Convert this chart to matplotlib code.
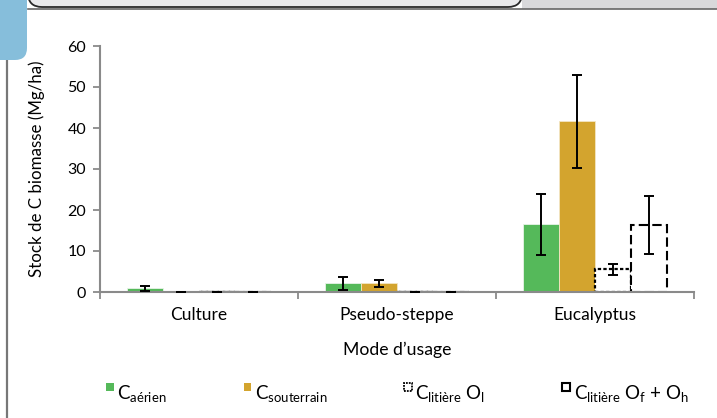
import matplotlib
matplotlib.use("Agg")
import matplotlib.pyplot as plt
import matplotlib.transforms as mtransforms
from matplotlib.patches import Patch, Rectangle, FancyBboxPatch
from matplotlib.lines import Line2D
from matplotlib.legend_handler import HandlerPatch
import numpy as np

plt.rcParams["font.family"] = ["Lato", "DejaVu Sans"]
plt.rcParams["mathtext.fontset"] = "custom"
plt.rcParams["mathtext.rm"] = "Lato"
plt.rcParams["mathtext.it"] = "Lato"
plt.rcParams["mathtext.bf"] = "Lato:bold"
plt.rcParams["mathtext.default"] = "rm"

# land-use categories and carbon stocks (Mg/ha) with standard deviations
usages = ["Culture", "Pseudo-steppe", "Eucalyptus"]
c_aerien = [0.9, 2.1, 16.5]
c_aerien_err = [0.6, 1.6, 7.5]
c_souterrain = [0.0, 2.1, 41.6]
c_souterrain_err = [0.0, 0.9, 11.4]
c_litiere_ol = [0.0, 0.0, 5.5]
c_litiere_ol_err = [0.0, 0.0, 1.3]
c_litiere_ofoh = [0.0, 0.0, 16.3]
c_litiere_ofoh_err = [0.0, 0.0, 7.1]

series_labels = [
    r"C$_{aérien}$",
    r"C$_{souterrain}$",
    r"C$_{litière}$ O$_{l}$",
    r"C$_{litière}$ O$_{f}$ + O$_{h}$",
]

GREEN = "#55b95a"
GOLD = "#d3a42e"
AXIS_GREY = "#8a8a8a"

W, H = 717, 418
fig = plt.figure(figsize=(W / 100, H / 100), dpi=100)

# page furniture around the chart
pix = mtransforms.IdentityTransform()
fig.patches.append(Rectangle((522, 409), 200, 12, transform=pix,
                             facecolor="#d9d9db", edgecolor="none", zorder=0))
fig.patches.append(FancyBboxPatch((28, 411), 494, 30, transform=pix,
                                  boxstyle="round,pad=0,rounding_size=14",
                                  facecolor="#e9e9eb", edgecolor="#2a2a2a",
                                  linewidth=1.3, zorder=1))
fig.lines.append(Line2D([28, W], [409, 409], transform=pix,
                        color="#666666", linewidth=1.2, zorder=1))
fig.lines.append(Line2D([6.5, 6.5], [0, 358], transform=pix,
                        color="#777777", linewidth=1.6, zorder=1))
fig.patches.append(FancyBboxPatch((-20, 358), 47, 80, transform=pix,
                                  boxstyle="round,pad=0,rounding_size=12",
                                  facecolor="#86bedb", edgecolor="none", zorder=2))

ax = fig.add_axes([100 / W, 126 / H, 594 / W, 246 / H])

x = np.arange(len(usages))
width = 0.182
offsets = np.array([-1.5, -0.5, 0.5, 1.5]) * width

values = [c_aerien, c_souterrain, c_litiere_ol, c_litiere_ofoh]
errors = [c_aerien_err, c_souterrain_err, c_litiere_ol_err, c_litiere_ofoh_err]
styles = [
    dict(color=GREEN, edgecolor="#e8f4e8", linewidth=0.6),
    dict(color=GOLD, edgecolor="#f3e6c4", linewidth=0.6),
    dict(facecolor="white", edgecolor="black", linewidth=1.6, linestyle=(0, (1.5, 1))),
    dict(facecolor="white", edgecolor="black", linewidth=1.5, linestyle=(0, (4.5, 2))),
]

for off, vals, errs, st in zip(offsets, values, errors, styles):
    ax.bar(x + off, vals, width, zorder=1, **st)
    ax.errorbar(x + off, vals, yerr=errs, fmt="none", ecolor="black",
                elinewidth=1.4, capsize=3.3, capthick=1.4, zorder=3)

ax.set_xlim(-0.5, 2.5)
ax.set_ylim(0, 60)
ax.set_yticks(np.arange(0, 61, 10))

ax.set_xticks([-0.5, 0.5, 1.5, 2.5])
ax.set_xticklabels([])
ax.set_xticks(x, minor=True)
ax.set_xticklabels(usages, minor=True)
ax.tick_params(axis="x", which="major", direction="out", length=5,
               width=1.3, color=AXIS_GREY)
ax.tick_params(axis="x", which="minor", length=0, pad=11, labelsize=12.5)
ax.tick_params(axis="y", direction="out", length=5, width=1.3,
               color=AXIS_GREY, pad=5, labelsize=11.5)

for side in ["top", "right"]:
    ax.spines[side].set_visible(False)
for side in ["left", "bottom"]:
    ax.spines[side].set_color(AXIS_GREY)
    ax.spines[side].set_linewidth(1.5)

ax.set_ylabel("Stock de C biomasse (Mg/ha)", fontsize=12.2)
ax.yaxis.set_label_coords(-0.093, 0.5)
ax.set_xlabel("Mode d\u2019usage", fontsize=12.7)
ax.xaxis.set_label_coords(0.5, -0.2)


def small_square(legend, orig_handle, xdescent, ydescent, width, height, fontsize):
    # little square sitting level with the top of the capital letters
    side = 0.4 * fontsize
    return Rectangle((-xdescent, 0.42 * fontsize), side, side)


handles = [
    Patch(facecolor=GREEN, edgecolor="none"),
    Patch(facecolor=GOLD, edgecolor="none"),
    Patch(facecolor="white", edgecolor="black", linewidth=1.3, linestyle=(0, (1, 0.6))),
    Patch(facecolor="white", edgecolor="black", linewidth=1.5),
]
fig.legend(handles, series_labels, loc="center left",
           bbox_to_anchor=(106 / W, 1 - 393 / H), ncol=4, frameon=False,
           fontsize=13.5, handlelength=0.4, handleheight=1.0,
           handletextpad=0.2, columnspacing=4.1, borderpad=0,
           borderaxespad=0,
           handler_map={Patch: HandlerPatch(patch_func=small_square)})

fig.savefig("out.png", dpi=100)
